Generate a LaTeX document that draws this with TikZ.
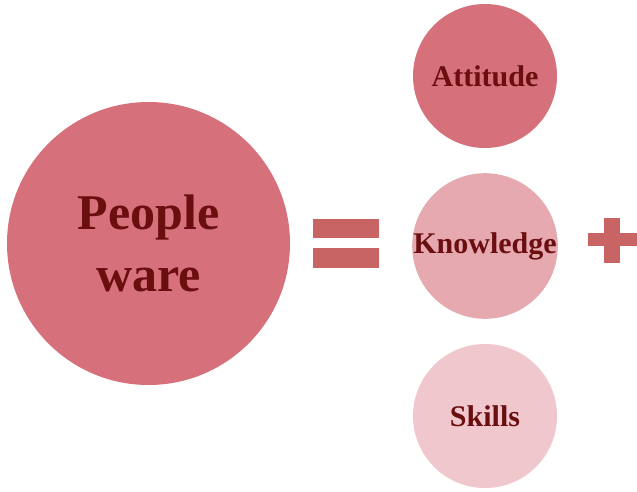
\documentclass[tikz,border=0pt]{standalone}
\usepackage{fontspec}
\setmainfont{Liberation Serif}
\definecolor{cA}{RGB}{214,112,123}
\definecolor{cK}{RGB}{229,169,175}
\definecolor{cS}{RGB}{240,199,204}
\definecolor{txt}{RGB}{107,14,16}
\definecolor{sym}{RGB}{200,100,100}
\tikzset{
  blob/.style={circle, inner sep=0pt, draw=none, text=txt, font=\bfseries\fontsize{30}{36}\selectfont, align=center},
  bar/.style={fill=sym, draw=none}
}
\begin{document}
\begin{tikzpicture}[x=1pt,y=-1pt]
\useasboundingbox (0,0) rectangle (637,491);
\node[blob, fill=cA, minimum size=283pt, font=\bfseries\fontsize{50}{62}\selectfont] (pw) at (148.5,243.5) {People\\ware};
\node[blob, fill=cA, minimum size=144pt] (att) at (485,76) {Attitude};
\node[blob, fill=cK, minimum size=144pt] (kn) at (485,246) {Knowledge};
\node[blob, fill=cS, minimum size=144pt] (sk) at (485,416) {Skills};
\fill[bar] (313,219) rectangle (379,238);
\fill[bar] (313,248) rectangle (379,268);
\fill[bar] (588,233) rectangle (637,246);
\fill[bar] (604,218) rectangle (620,263);
\end{tikzpicture}
\end{document}
